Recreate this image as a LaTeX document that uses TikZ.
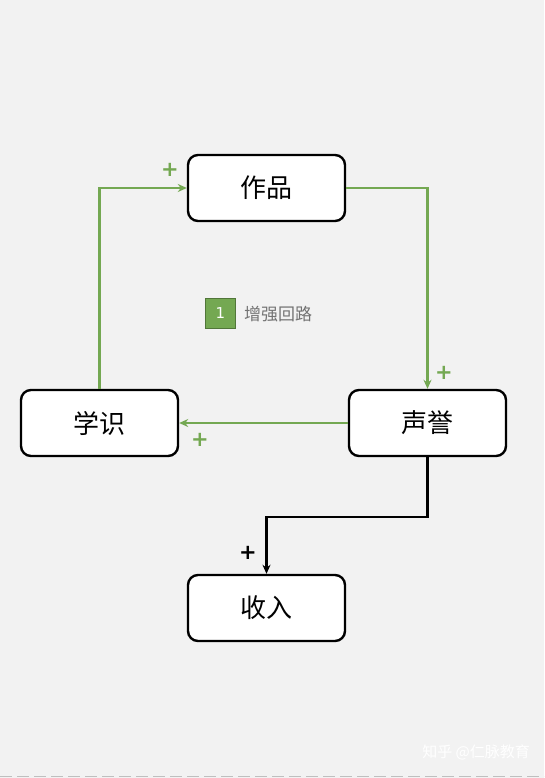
\documentclass[tikz,border=0pt]{standalone}
\usepackage{fontspec}
\usetikzlibrary{arrows.meta}
\newfontfamily\cjk{Noto Sans CJK SC}
\newfontfamily\latin{DejaVu Sans}
\definecolor{loopgreen}{HTML}{74A852}
\definecolor{bggray}{HTML}{F2F2F2}
\tikzstyle{block}=[
	draw=black,
	fill=white,
	line width=2.4pt,
	rounded corners=10pt,
	minimum width=157pt,
	minimum height=66pt,
	inner sep=0pt,
	font=\cjk\fontsize{26}{30}\selectfont
]
\tikzstyle{gedge} = [draw=loopgreen,line width=2.6pt,-{Stealth[length=9pt,width=8pt]}]
\tikzstyle{bedge} = [draw=black,line width=2.4pt,-{Stealth[length=9pt,width=8pt]}]
\tikzstyle{plus} = [font=\latin\bfseries\fontsize{21}{21}\selectfont,inner sep=0pt]

\begin{document}
\begin{tikzpicture}[x=1pt,y=-1pt]
			
			\fill[bggray] (0,0) rectangle (544,778);
			\useasboundingbox (0,0) rectangle (544,778);
			
			\node[block]	(work)	at (266.5,188) {作品};
			\node[block]	(know)	at (99.5,423) {学识};
			\node[block]	(fame)	at (427.5,423) {声誉};
			\node[block]	(income)	at (266.5,608) {收入};
			
			\path[gedge] (know.north) |- (work.west);
			\path[gedge] (work.east) -| (fame.north);
			\path[gedge] (fame.west) -- (know.east);
			\path[bedge] (fame.south) -- ++(0,60) -| (income.north);
			
			\node[plus,text=loopgreen]	(p1)	at (170,170) {+};
			\node[plus,text=loopgreen]	(p2)	at (444,373) {+};
			\node[plus,text=loopgreen]	(p3)	at (200,440) {+};
			\node[plus,text=black]	(p4)	at (248,553) {+};
			
			\node[fill=loopgreen,draw=loopgreen!70!black,line width=1pt,minimum size=30pt,inner sep=0pt,text=white,font=\latin\fontsize{15}{15}\selectfont]	(num)	at (220.5,313.5) {1};
			\node[anchor=west,text=black!55,font=\cjk\fontsize{17}{17}\selectfont,inner sep=0pt]	(loop)	at (244,314) {增强回路};
			
			\node[anchor=east,text=white,font=\cjk\fontsize{15}{15}\selectfont,inner sep=0pt]	(mark)	at (530,752) {知乎 @仁脉教育};
			\draw[black!25,line width=1.5pt,dash pattern=on 12pt off 5pt] (0,776.5) -- (544,776.5);
			
			\end{tikzpicture}
\end{document}
